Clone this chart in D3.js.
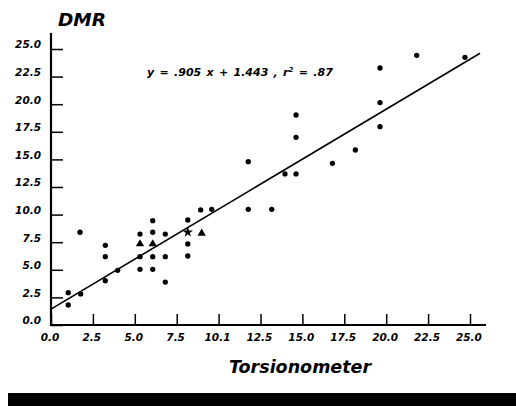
<!DOCTYPE html>
<html>
<head>
<meta charset="utf-8">
<script src="https://cdn.jsdelivr.net/npm/d3@7"></script>
<style>
  html, body { margin: 0; padding: 0; background: #fff; }
  svg { display: block; }
  text { font-family: "DejaVu Sans", sans-serif; font-style: italic; font-weight: 700; fill: #000; }
</style>
</head>
<body>
<script>
// ---- data ----
const torsion = [1.03,1.03,1.77,1.73,3.24,3.24,3.24,3.98,5.31,5.31,5.31,5.31,6.07,6.07,6.07,6.07,6.07,6.82,6.82,6.82,8.16,8.16,8.16,8.16,8.93,8.99,9.59,11.77,11.77,13.17,13.96,14.62,14.62,14.62,16.79,18.16,19.63,19.63,19.63,21.82,24.70];
const dmr     = [2.93,1.81,2.81,8.40,7.22,6.19,4.01,4.95,8.24,7.34,6.19,5.04,9.45,8.40,7.34,6.19,5.04,8.24,6.19,3.89,9.51,8.40,7.34,6.25,10.42,8.31,10.48,14.79,10.48,10.48,13.68,13.68,17.00,19.02,14.64,15.85,17.96,20.15,23.28,24.43,24.25];
const shapes  = ["c","c","c","c","c","c","c","c","c","t","c","c","c","c","t","c","c","c","c","c","c","s","c","c","c","t","c","c","c","c","c","c","c","c","c","c","c","c","c","c","c"];
const tickValues = [0,2.5,5,7.5,10,12.5,15,17.5,20,22.5,25];
const xTickLabels = ["0.0","2.5","5.0","7.5","10.1","12.5","15.0","17.5","20.0","22.5","25.0"];
const yTickLabels = ["0.0","2.5","5.0","7.5","10.0","12.5","15.0","17.5","20.0","22.5","25.0"];
const slope = 0.905, intercept = 1.443, r2 = ".87";
const xTitle = "Torsionometer", yTitle = "DMR";

// ---- chart ----
const W = 516, H = 406;
const svg = d3.select("body").append("svg").attr("width", W).attr("height", H);

const x = d3.scaleLinear().domain([0, 25]).range([51, 470]);
const y = d3.scaleLinear().domain([0, 25]).range([325, 49]);

// axes
const yAxis = d3.axisLeft(y).tickValues(tickValues)
  .tickFormat((d, i) => yTickLabels[i]).tickSizeInner(-12).tickSizeOuter(0).tickPadding(10);
const gy = svg.append("g").attr("transform", `translate(${x(0)},0)`).call(yAxis);
gy.select(".domain").remove();
gy.selectAll(".tick line").attr("stroke", "#000").attr("stroke-width", 1.5);
gy.selectAll(".tick text").attr("font-size", 10.5).attr("dy", "-0.1em")
  .style("font-family", '"DejaVu Sans", sans-serif').style("font-style", "italic").style("font-weight", 700);

const xAxis = d3.axisBottom(x).tickValues(tickValues)
  .tickFormat((d, i) => xTickLabels[i]).tickSizeInner(-11).tickSizeOuter(0).tickPadding(9);
const gx = svg.append("g").attr("transform", `translate(0,${y(0)})`).call(xAxis);
gx.select(".domain").remove();
gx.selectAll(".tick line").attr("stroke", "#000").attr("stroke-width", 1.5);
gx.selectAll(".tick text").attr("font-size", 10.5).attr("dx", "-0.15em")
  .style("font-family", '"DejaVu Sans", sans-serif').style("font-style", "italic").style("font-weight", 700);

// axis lines
svg.append("line").attr("x1", x(0)).attr("x2", x(0)).attr("y1", y(26.45)).attr("y2", y(0) + 1)
  .attr("stroke", "#000").attr("stroke-width", 2.2);
svg.append("line").attr("x1", x(0) - 1).attr("x2", x(25.95)).attr("y1", y(0)).attr("y2", y(0))
  .attr("stroke", "#000").attr("stroke-width", 2.2);

// regression line
svg.append("line")
  .attr("x1", x(0)).attr("y1", y(intercept))
  .attr("x2", x(25.6)).attr("y2", y(slope * 25.6 + intercept))
  .attr("stroke", "#000").attr("stroke-width", 1.6);

// points
const symType = { c: d3.symbolCircle, t: d3.symbolTriangle, s: d3.symbolStar };
const symSize = { c: 22, t: 30, s: 34 };
svg.append("g").selectAll("path").data(torsion).join("path")
  .attr("transform", (d, i) => `translate(${x(d)},${y(dmr[i])})`)
  .attr("d", (d, i) => d3.symbol().type(symType[shapes[i]]).size(symSize[shapes[i]])())
  .attr("fill", "#000");

// equation
const eq = svg.append("text").attr("x", 147).attr("y", 76).attr("font-size", 11).attr("word-spacing", 1.5);
eq.append("tspan").text(`y = .${String(slope).split(".")[1]} x + ${intercept} ,   r`);
eq.append("tspan").attr("dy", -4).attr("font-size", 7).text("2");
eq.append("tspan").attr("dy", 4).text(` = ${r2}`);

// titles
svg.append("text").attr("x", 58).attr("y", 26).attr("font-size", 18.5).text(yTitle);
svg.append("text").attr("x", 300).attr("y", 373).attr("text-anchor", "middle")
  .attr("font-size", 17.5).text(xTitle);

// scan bar at bottom
svg.append("rect").attr("x", 8).attr("y", 393).attr("width", W - 8).attr("height", H - 393).attr("fill", "#000");
</script>
</body>
</html>
